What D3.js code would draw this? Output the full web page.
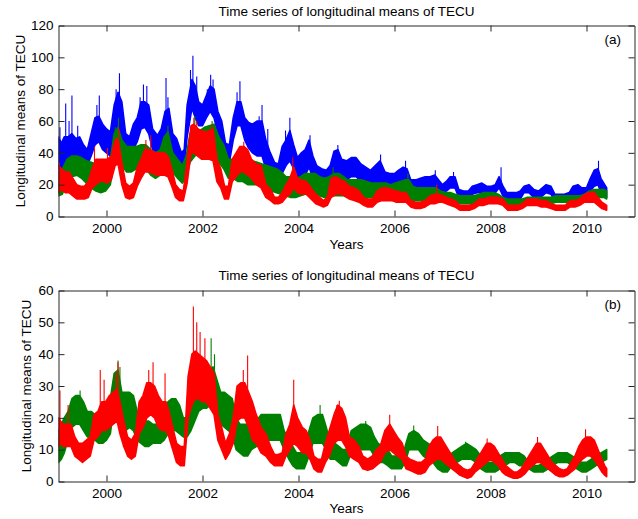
<!DOCTYPE html>
<html>
<head>
<meta charset="utf-8">
<script src="https://cdn.jsdelivr.net/npm/d3@7"></script>
<style>
  body { margin: 0; background: #ffffff; }
  svg { display: block; }
</style>
</head>
<body>
<script>
// bands: [year, lower, upper] of the dense daily trace
// spikes: [year, from, to] for the tall single-day spikes

// panel (a)
const blueA = [
  [1999.00, 30, 50], [1999.06, 28, 46], [1999.12, 32, 50], [1999.20, 34, 50], [1999.28, 35, 52],
  [1999.36, 34, 49], [1999.44, 34, 50], [1999.52, 32, 45], [1999.60, 32, 42], [1999.68, 38, 52],
  [1999.76, 45, 62], [1999.84, 47, 63], [1999.92, 42, 58], [2000.00, 40, 55], [2000.08, 38, 53],
  [2000.16, 50, 70], [2000.24, 57, 78], [2000.32, 50, 72], [2000.40, 38, 52], [2000.48, 36, 50],
  [2000.56, 42, 58], [2000.64, 47, 62], [2000.72, 55, 72], [2000.80, 56, 72], [2000.88, 52, 70],
  [2000.96, 42, 55], [2001.06, 40, 51], [2001.14, 42, 55], [2001.22, 50, 66], [2001.30, 48, 68],
  [2001.38, 40, 52], [2001.46, 36, 49], [2001.56, 30, 40], [2001.62, 32, 42], [2001.68, 50, 70],
  [2001.78, 68, 86], [2001.85, 62, 82], [2001.92, 57, 72], [2002.00, 57, 70], [2002.08, 62, 76],
  [2002.16, 66, 82], [2002.24, 62, 80], [2002.32, 52, 66], [2002.40, 47, 60], [2002.48, 36, 46],
  [2002.56, 34, 45], [2002.64, 48, 62], [2002.72, 57, 72], [2002.80, 57, 72], [2002.88, 48, 62],
  [2002.96, 43, 59], [2003.04, 40, 58], [2003.14, 38, 60], [2003.24, 38, 60], [2003.32, 30, 48],
  [2003.40, 25, 41], [2003.50, 23, 34], [2003.58, 23, 33], [2003.66, 27, 44], [2003.74, 32, 48],
  [2003.82, 35, 54], [2003.90, 30, 45], [2003.98, 23, 37], [2004.06, 25, 40], [2004.14, 26, 42],
  [2004.22, 31, 48], [2004.30, 24, 38], [2004.38, 19, 32], [2004.48, 18, 30], [2004.58, 20, 29],
  [2004.66, 22, 32], [2004.74, 27, 41], [2004.82, 28, 42], [2004.90, 24, 36], [2005.00, 23, 35],
  [2005.10, 25, 37], [2005.20, 25, 37], [2005.30, 22, 33], [2005.40, 19, 31], [2005.50, 18, 29],
  [2005.60, 20, 32], [2005.70, 22, 35], [2005.80, 19, 28], [2005.90, 18, 27], [2006.00, 18, 27],
  [2006.08, 20, 29], [2006.18, 21, 31], [2006.26, 20, 30], [2006.34, 16, 23], [2006.44, 16, 23],
  [2006.54, 17, 24], [2006.64, 18, 25], [2006.74, 18, 25], [2006.84, 18, 26], [2006.92, 16, 23],
  [2007.00, 15, 20], [2007.08, 16, 22], [2007.16, 18, 25], [2007.26, 18, 25], [2007.34, 12, 17],
  [2007.44, 11, 16], [2007.54, 11, 16], [2007.62, 14, 19], [2007.72, 15, 20], [2007.82, 15, 21],
  [2007.92, 15, 19], [2008.02, 15, 19], [2008.10, 15, 20], [2008.18, 18, 25], [2008.26, 13, 19],
  [2008.34, 10, 15], [2008.44, 10, 15], [2008.54, 10, 15], [2008.62, 11, 16], [2008.70, 15, 19],
  [2008.80, 15, 20], [2008.90, 12, 17], [2009.00, 11, 16], [2009.08, 13, 18], [2009.16, 15, 20],
  [2009.26, 14, 19], [2009.34, 10, 14], [2009.44, 9, 14], [2009.54, 9, 14], [2009.64, 10, 15],
  [2009.72, 13, 19], [2009.82, 14, 20], [2009.90, 13, 18], [2010.00, 13, 18], [2010.08, 16, 24],
  [2010.16, 19, 29], [2010.24, 20, 30], [2010.30, 15, 24], [2010.36, 13, 21], [2010.42, 12, 18]
];
const blueSpikesA = [
  [1999.03, 45, 56], [1999.15, 46, 71], [1999.22, 45, 60], [1999.28, 48, 76], [1999.40, 45, 57],
  [1999.80, 58, 70], [1999.85, 58, 76], [2000.20, 66, 80], [2000.27, 72, 90], [2000.70, 66, 75],
  [2000.77, 68, 83], [2000.84, 68, 82], [2001.24, 62, 87], [2001.28, 62, 75], [2001.75, 80, 92],
  [2001.80, 82, 101], [2001.88, 76, 88], [2002.10, 72, 80], [2002.17, 78, 89], [2002.22, 76, 86],
  [2002.72, 68, 78], [2002.78, 68, 85], [2003.18, 56, 63], [2003.24, 56, 70], [2003.36, 44, 55],
  [2003.73, 45, 54], [2003.82, 50, 62], [2004.24, 44, 51], [2004.82, 38, 45], [2005.71, 32, 39],
  [2006.23, 28, 35], [2006.85, 24, 29], [2007.23, 23, 28], [2008.22, 20, 31], [2010.25, 27, 35]
];

const greenA = [
  [1999.00, 13, 28], [1999.08, 14, 30], [1999.18, 22, 36], [1999.28, 25, 38], [1999.38, 26, 38],
  [1999.48, 24, 37], [1999.58, 21, 35], [1999.68, 18, 34], [1999.78, 16, 33], [1999.88, 15, 30],
  [1999.98, 16, 32], [2000.08, 20, 36], [2000.16, 34, 52], [2000.24, 38, 56], [2000.32, 32, 48],
  [2000.42, 28, 44], [2000.52, 28, 44], [2000.62, 30, 44], [2000.72, 30, 45], [2000.82, 30, 45],
  [2000.92, 26, 42], [2001.02, 24, 40], [2001.12, 26, 42], [2001.20, 34, 50], [2001.28, 36, 53],
  [2001.38, 28, 40], [2001.48, 24, 36], [2001.58, 21, 32], [2001.66, 24, 38], [2001.74, 34, 52],
  [2001.84, 38, 57], [2001.94, 40, 54], [2002.04, 42, 56], [2002.14, 42, 57], [2002.24, 42, 58],
  [2002.34, 34, 50], [2002.44, 30, 45], [2002.54, 24, 36], [2002.64, 24, 36], [2002.74, 22, 38],
  [2002.84, 22, 38], [2002.94, 20, 36], [2003.04, 20, 35], [2003.14, 20, 34], [2003.24, 19, 33],
  [2003.34, 18, 32], [2003.44, 16, 31], [2003.54, 15, 30], [2003.64, 14, 28], [2003.74, 13, 25],
  [2003.84, 12, 25], [2003.94, 12, 24], [2004.04, 13, 25], [2004.14, 14, 27], [2004.24, 15, 27],
  [2004.34, 14, 27], [2004.44, 13, 25], [2004.54, 12, 24], [2004.64, 12, 25], [2004.74, 13, 27],
  [2004.84, 13, 27], [2004.94, 13, 25], [2005.02, 12, 23], [2005.12, 12, 23], [2005.22, 12, 23],
  [2005.32, 12, 23], [2005.42, 12, 22], [2005.52, 12, 21], [2005.62, 12, 21], [2005.72, 12, 21],
  [2005.82, 11, 21], [2005.92, 11, 20], [2006.02, 11, 21], [2006.12, 11, 22], [2006.22, 12, 23],
  [2006.30, 12, 23], [2006.38, 10, 19], [2006.46, 10, 18], [2006.56, 10, 18], [2006.66, 10, 18],
  [2006.76, 10, 18], [2006.86, 10, 18], [2006.96, 10, 16], [2007.06, 10, 15], [2007.16, 10, 15],
  [2007.26, 9, 14], [2007.36, 8, 13], [2007.46, 8, 13], [2007.56, 8, 13], [2007.66, 8, 13],
  [2007.76, 9, 14], [2007.86, 9, 15], [2007.96, 9, 15], [2008.06, 9, 15], [2008.16, 9, 14],
  [2008.26, 8, 12], [2008.36, 7, 11], [2008.46, 7, 11], [2008.56, 7, 11], [2008.66, 7, 11],
  [2008.76, 8, 12], [2008.86, 8, 12], [2008.96, 8, 12], [2009.06, 8, 12], [2009.16, 8, 12],
  [2009.26, 8, 12], [2009.36, 9, 13], [2009.46, 9, 13], [2009.56, 9, 13], [2009.66, 9, 13],
  [2009.76, 9, 13], [2009.86, 9, 13], [2009.96, 10, 14], [2010.06, 11, 16], [2010.16, 11, 17],
  [2010.26, 12, 17], [2010.36, 12, 17], [2010.42, 11, 16]
];
const greenSpikesA = [
  [2000.18, 48, 56], [2000.25, 50, 62], [2001.28, 48, 57], [2001.78, 48, 57], [2001.84, 54, 63],
  [2002.20, 54, 60], [2004.72, 24, 31], [2006.28, 21, 27]
];

const redA = [
  [1999.00, 15, 32], [1999.06, 17, 30], [1999.14, 15, 28], [1999.22, 15, 28], [1999.30, 13, 24],
  [1999.38, 11, 20], [1999.46, 11, 19], [1999.54, 11, 19], [1999.62, 12, 22], [1999.70, 18, 30],
  [1999.78, 20, 36], [1999.86, 22, 36], [1999.94, 22, 36], [2000.02, 21, 36], [2000.10, 23, 38],
  [2000.18, 32, 48], [2000.24, 33, 49], [2000.32, 20, 34], [2000.40, 12, 21], [2000.48, 11, 19],
  [2000.56, 12, 21], [2000.64, 19, 31], [2000.72, 24, 36], [2000.80, 28, 42], [2000.88, 28, 42],
  [2000.96, 27, 41], [2001.04, 26, 40], [2001.12, 26, 40], [2001.20, 26, 40], [2001.28, 25, 38],
  [2001.36, 19, 30], [2001.44, 12, 20], [2001.52, 10, 17], [2001.60, 10, 16], [2001.68, 21, 35],
  [2001.76, 40, 57], [2001.82, 40, 58], [2001.90, 38, 55], [2001.98, 36, 54], [2002.06, 36, 53],
  [2002.14, 36, 54], [2002.22, 35, 55], [2002.30, 22, 36], [2002.38, 18, 30], [2002.46, 11, 19],
  [2002.54, 11, 19], [2002.62, 22, 36], [2002.70, 25, 40], [2002.78, 28, 44], [2002.86, 28, 44],
  [2002.94, 26, 42], [2003.02, 24, 36], [2003.12, 20, 33], [2003.22, 18, 32], [2003.32, 12, 20],
  [2003.42, 10, 17], [2003.50, 8, 12], [2003.58, 8, 12], [2003.66, 9, 15], [2003.74, 12, 20],
  [2003.82, 14, 24], [2003.90, 18, 31], [2003.98, 15, 24], [2004.06, 14, 23], [2004.16, 14, 22],
  [2004.26, 11, 18], [2004.36, 8, 14], [2004.44, 7, 12], [2004.52, 6, 10], [2004.60, 7, 12],
  [2004.68, 12, 24], [2004.78, 14, 25], [2004.88, 14, 23], [2004.96, 13, 22], [2005.06, 11, 19],
  [2005.16, 10, 18], [2005.26, 9, 16], [2005.36, 7, 12], [2005.44, 6, 11], [2005.54, 6, 11],
  [2005.64, 9, 16], [2005.74, 10, 18], [2005.84, 10, 18], [2005.94, 10, 17], [2006.04, 9, 16],
  [2006.14, 9, 15], [2006.24, 9, 15], [2006.34, 6, 10], [2006.44, 5, 9], [2006.54, 5, 9],
  [2006.64, 6, 10], [2006.74, 8, 13], [2006.84, 8, 14], [2006.92, 9, 14], [2007.00, 9, 13],
  [2007.08, 8, 12], [2007.16, 7, 11], [2007.26, 6, 10], [2007.36, 4, 7], [2007.46, 4, 7],
  [2007.56, 4, 7], [2007.66, 5, 8], [2007.76, 7, 11], [2007.86, 7, 11], [2007.96, 8, 12],
  [2008.06, 8, 12], [2008.16, 8, 12], [2008.26, 7, 11], [2008.36, 4, 7], [2008.46, 4, 7],
  [2008.56, 4, 7], [2008.66, 5, 8], [2008.76, 7, 11], [2008.86, 7, 11], [2008.96, 7, 11],
  [2009.06, 6, 10], [2009.16, 6, 10], [2009.26, 5, 8], [2009.36, 4, 7], [2009.46, 4, 7],
  [2009.56, 4, 7], [2009.66, 6, 10], [2009.76, 6, 10], [2009.86, 7, 11], [2009.96, 9, 14],
  [2010.06, 9, 15], [2010.16, 9, 15], [2010.24, 7, 12], [2010.32, 5, 9], [2010.42, 4, 7]
];
const redSpikesA = [
  [1999.02, 28, 34], [1999.75, 30, 44], [2000.02, 33, 43], [2000.25, 46, 56], [2000.82, 39, 48],
  [2000.92, 38, 51], [2001.82, 55, 62], [2001.88, 52, 60], [2002.20, 52, 58], [2002.86, 41, 47],
  [2003.88, 28, 37], [2006.88, 13, 20], [2010.12, 14, 16]
];

// panel (b)
const greenB = [
  [1999.00, 6, 16], [1999.06, 7, 18], [1999.12, 9, 20], [1999.20, 13, 22], [1999.28, 17, 26],
  [1999.36, 18, 27], [1999.44, 18, 27], [1999.52, 16, 25], [1999.60, 14, 22], [1999.68, 14, 22],
  [1999.76, 13, 21], [1999.84, 12, 20], [1999.92, 12, 20], [2000.00, 13, 22], [2000.08, 15, 26],
  [2000.16, 24, 34], [2000.24, 26, 35], [2000.32, 18, 28], [2000.40, 16, 28], [2000.48, 17, 28],
  [2000.56, 16, 27], [2000.64, 13, 22], [2000.72, 12, 20], [2000.80, 11, 19], [2000.88, 11, 19],
  [2000.96, 12, 18], [2001.04, 12, 18], [2001.12, 12, 19], [2001.20, 13, 22], [2001.28, 15, 25],
  [2001.36, 16, 26], [2001.44, 16, 26], [2001.52, 15, 24], [2001.60, 14, 20], [2001.68, 14, 20],
  [2001.76, 16, 24], [2001.84, 19, 28], [2001.92, 22, 32], [2002.00, 23, 33], [2002.08, 23, 34],
  [2002.16, 24, 35], [2002.22, 25, 36], [2002.30, 21, 32], [2002.38, 18, 28], [2002.46, 17, 28],
  [2002.54, 16, 27], [2002.62, 15, 26], [2002.70, 10, 20], [2002.78, 9, 18], [2002.86, 8, 18],
  [2002.94, 8, 18], [2003.02, 10, 19], [2003.12, 11, 19], [2003.22, 12, 21], [2003.32, 13, 21],
  [2003.42, 13, 21], [2003.52, 13, 21], [2003.62, 13, 21], [2003.70, 10, 16], [2003.80, 7, 13],
  [2003.88, 5, 11], [2003.96, 4, 9], [2004.04, 4, 9], [2004.12, 4, 10], [2004.22, 8, 16],
  [2004.30, 12, 20], [2004.40, 12, 21], [2004.50, 12, 21], [2004.58, 10, 17], [2004.66, 7, 12],
  [2004.76, 7, 12], [2004.84, 6, 11], [2004.92, 5, 10], [2005.00, 5, 10], [2005.10, 9, 16],
  [2005.20, 10, 17], [2005.30, 10, 18], [2005.40, 10, 18], [2005.50, 10, 17], [2005.58, 8, 14],
  [2005.66, 6, 12], [2005.76, 6, 11], [2005.86, 5, 10], [2005.94, 4, 8], [2006.04, 4, 8],
  [2006.14, 4, 8], [2006.22, 6, 11], [2006.30, 10, 15], [2006.40, 10, 16], [2006.50, 10, 15],
  [2006.60, 8, 13], [2006.70, 7, 12], [2006.80, 6, 11], [2006.90, 4, 8], [2007.00, 3, 7],
  [2007.10, 3, 7], [2007.20, 5, 9], [2007.30, 6, 10], [2007.40, 7, 11], [2007.50, 7, 12],
  [2007.60, 7, 11], [2007.70, 6, 10], [2007.80, 4, 8], [2007.90, 3, 6], [2008.00, 3, 6],
  [2008.10, 3, 6], [2008.20, 4, 8], [2008.30, 5, 9], [2008.40, 6, 9], [2008.50, 6, 9],
  [2008.60, 5, 9], [2008.70, 5, 8], [2008.80, 4, 6], [2008.90, 3, 5], [2009.00, 3, 5],
  [2009.10, 3, 6], [2009.20, 4, 7], [2009.30, 5, 8], [2009.40, 6, 9], [2009.50, 6, 9],
  [2009.60, 6, 9], [2009.70, 5, 8], [2009.80, 4, 7], [2009.90, 3, 6], [2010.00, 3, 6],
  [2010.10, 4, 7], [2010.20, 5, 8], [2010.30, 6, 9], [2010.42, 7, 10]
];
const greenSpikesB = [
  [1999.35, 24, 27], [1999.45, 25, 28.6], [2000.24, 33, 38], [2000.28, 26, 36], [2002.10, 32, 37],
  [2002.18, 34, 45], [2002.25, 34, 40], [2004.45, 19, 24], [2005.40, 17, 19], [2006.40, 15, 17.6],
  [2007.48, 11, 12.5]
];

const redB = [
  [1999.00, 11, 20], [1999.04, 12, 19], [1999.10, 11, 18], [1999.18, 11, 18], [1999.26, 11, 18],
  [1999.34, 8, 14], [1999.42, 7, 12], [1999.50, 6, 12], [1999.58, 7, 13], [1999.66, 8, 14],
  [1999.74, 13, 21], [1999.82, 14, 22], [1999.90, 16, 25], [1999.98, 16, 25], [2000.06, 17, 27],
  [2000.14, 18, 28], [2000.22, 19, 29], [2000.28, 15, 25], [2000.36, 11, 19], [2000.44, 8, 14],
  [2000.52, 7, 13], [2000.60, 8, 15], [2000.68, 15, 25], [2000.76, 17, 27], [2000.84, 20, 31],
  [2000.92, 21, 31], [2001.00, 20, 30], [2001.08, 17, 27], [2001.16, 16, 25], [2001.24, 16, 25],
  [2001.30, 14, 22], [2001.38, 10, 17], [2001.46, 6, 12], [2001.54, 5, 11], [2001.62, 5, 11],
  [2001.70, 20, 33], [2001.78, 24, 40], [2001.85, 26, 41], [2001.92, 26, 40], [2002.00, 25, 39],
  [2002.08, 25, 38], [2002.16, 23, 36], [2002.24, 21, 34], [2002.32, 13, 21], [2002.40, 10, 17],
  [2002.48, 7, 12], [2002.56, 9, 15], [2002.64, 12, 20], [2002.72, 19, 30], [2002.80, 20, 31],
  [2002.88, 20, 31], [2002.96, 17, 28], [2003.04, 13, 25], [2003.12, 12, 21], [2003.22, 9, 17],
  [2003.32, 8, 15], [2003.42, 6, 11], [2003.50, 5, 8.5], [2003.58, 5, 8.5], [2003.66, 5, 9],
  [2003.74, 8, 15], [2003.82, 10, 18], [2003.90, 12, 24], [2003.98, 11, 20], [2004.08, 9, 17],
  [2004.16, 9, 16], [2004.24, 7, 13], [2004.32, 4, 8], [2004.40, 3, 7], [2004.48, 3, 7],
  [2004.56, 6, 12], [2004.64, 8, 16], [2004.74, 12, 21], [2004.82, 13, 24], [2004.90, 13, 23],
  [2004.98, 11, 20], [2005.06, 8, 14], [2005.16, 7, 13], [2005.26, 6, 11], [2005.34, 4, 8],
  [2005.44, 3.5, 7], [2005.54, 4, 8], [2005.62, 5, 10], [2005.70, 6, 11], [2005.80, 9, 16],
  [2005.90, 10, 18], [2005.98, 9, 16], [2006.06, 8, 14], [2006.16, 7, 12], [2006.24, 4, 8],
  [2006.32, 3.5, 7], [2006.40, 3, 6.5], [2006.48, 2.4, 6], [2006.56, 2.4, 6], [2006.64, 3, 7],
  [2006.72, 5, 11], [2006.80, 6, 13], [2006.88, 7, 14], [2006.96, 7, 14], [2007.04, 6, 12],
  [2007.12, 5, 10], [2007.20, 4, 8], [2007.28, 3, 6], [2007.36, 2, 5], [2007.44, 1.5, 4],
  [2007.52, 1, 3.5], [2007.60, 1.5, 4], [2007.68, 3, 6], [2007.76, 4, 8], [2007.84, 5, 10],
  [2007.92, 6, 12], [2008.00, 7, 12], [2008.08, 6, 11], [2008.16, 5, 9], [2008.24, 3, 7],
  [2008.32, 2, 5], [2008.40, 1.5, 4], [2008.48, 1, 3], [2008.56, 1, 3], [2008.64, 1.5, 4],
  [2008.72, 2.5, 6], [2008.80, 4, 8], [2008.88, 5, 10], [2008.96, 6, 12], [2009.04, 6, 12],
  [2009.12, 5, 10], [2009.20, 4, 8], [2009.28, 3, 6], [2009.36, 2, 5], [2009.44, 1.5, 4],
  [2009.52, 1.5, 3.5], [2009.60, 2, 4], [2009.68, 3, 6], [2009.76, 4, 8], [2009.84, 6, 11],
  [2009.92, 7, 13], [2010.00, 8, 14], [2010.08, 8, 14], [2010.16, 7, 13], [2010.24, 5, 10],
  [2010.32, 3, 7], [2010.38, 2, 5], [2010.42, 1.5, 4]
];
const redSpikesB = [
  [1999.03, 18, 28.6], [1999.20, 17, 24], [1999.87, 21, 35], [1999.95, 24, 32], [2000.20, 27, 34],
  [2000.24, 27, 37.5], [2000.88, 29, 35], [2000.97, 29, 37.5], [2001.22, 23, 34], [2001.81, 39, 55],
  [2001.88, 39, 50], [2001.95, 38, 47], [2002.05, 37, 45], [2002.85, 29, 35], [2002.94, 27, 39.6],
  [2003.90, 21, 32], [2004.80, 22, 24], [2004.85, 21, 25.4], [2005.90, 16, 21], [2006.90, 13, 17.4],
  [2007.93, 11, 13.5], [2008.98, 11, 14], [2009.98, 13, 16.4]
];

const yearTicks = [2000, 2002, 2004, 2006, 2008, 2010];
const yTicksA = [0, 20, 40, 60, 80, 100, 120];
const yTicksB = [0, 10, 20, 30, 40, 50, 60];

const titleText = "Time series of longitudinal means of TECU";
const yLabelText = "Longitudinal means of TECU";
const xLabelText = "Years";

// window stuff
width = 638
height = 519
font = {family: "'Liberation Sans', Arial, Helvetica, sans-serif", size: 13.5}
colors = {blue: "#0000ff", green: "#008000", red: "#ff0000", axis: "#262626"}

const svg = d3.select("body").append("svg")
  .attr("width", width)
  .attr("height", height)
  .attr("font-family", font.family)
  .attr("font-size", font.size);

const xScale = d3.scaleLinear().domain([1999, 2011]).range([58.5, 634.5]);

// one panel = box, bands, axes, labels
function drawPanel(opts) {
  const yScale = d3.scaleLinear().domain(opts.yDomain).range([opts.bottom, opts.top]);
  const g = svg.append("g");

  const clipId = "clip-" + opts.tag;
  g.append("clipPath").attr("id", clipId)
    .append("rect")
      .attr("x", xScale.range()[0]).attr("y", opts.top)
      .attr("width", xScale.range()[1] - xScale.range()[0])
      .attr("height", opts.bottom - opts.top);

  const band = d3.area()
    .x(d => xScale(d[0]))
    .y0(d => yScale(d[1]))
    .y1(d => yScale(d[2]));

  const plot = g.append("g").attr("clip-path", `url(#${clipId})`);
  opts.series.forEach(s => {
    plot.append("path")
      .datum(s.data)
      .attr("d", band)
      .attr("fill", s.color)
      .attr("stroke", s.color)
      .attr("stroke-width", 1.6)
      .attr("stroke-linejoin", "round");
    plot.append("g").selectAll("line").data(s.spikes).join("line")
      .attr("x1", d => xScale(d[0]))
      .attr("x2", d => xScale(d[0]))
      .attr("y1", d => yScale(d[1]))
      .attr("y2", d => yScale(d[2]))
      .attr("stroke", s.color)
      .attr("stroke-width", 1.1);
  });

  // axes, ticks pointing in like matlab
  const bottomAxis = d3.axisBottom(xScale).tickValues(yearTicks).tickFormat(d3.format("d"))
    .tickSizeInner(-6).tickSizeOuter(0).tickPadding(opts.xPad);
  const topAxis = d3.axisTop(xScale).tickValues(yearTicks).tickFormat("")
    .tickSizeInner(-6).tickSizeOuter(0);
  const leftAxis = d3.axisLeft(yScale).tickValues(opts.yTicks).tickFormat(d3.format("d"))
    .tickSizeInner(-6).tickSizeOuter(0).tickPadding(5);
  const rightAxis = d3.axisRight(yScale).tickValues(opts.yTicks).tickFormat("")
    .tickSizeInner(-6).tickSizeOuter(0);

  const axes = [
    g.append("g").attr("transform", `translate(0,${opts.bottom})`).call(bottomAxis),
    g.append("g").attr("transform", `translate(0,${opts.top})`).call(topAxis),
    g.append("g").attr("transform", `translate(${xScale.range()[0]},0)`).call(leftAxis),
    g.append("g").attr("transform", `translate(${xScale.range()[1]},0)`).call(rightAxis)
  ];
  axes.forEach(a => {
    a.attr("font-family", null).attr("font-size", null);
    a.select(".domain").attr("stroke", colors.axis);
    a.selectAll(".tick line").attr("stroke", colors.axis);
    a.selectAll(".tick text").attr("fill", "#000");
  });

  // panel title
  svg.append("text")
    .attr("x", (xScale.range()[0] + xScale.range()[1]) / 2)
    .attr("y", opts.titleY)
    .attr("text-anchor", "middle")
    .text(titleText);

  // x label
  svg.append("text")
    .attr("x", (xScale.range()[0] + xScale.range()[1]) / 2)
    .attr("y", opts.xLabelY)
    .attr("text-anchor", "middle")
    .text(xLabelText);

  // y label
  svg.append("text")
    .attr("transform", `translate(${opts.yLabelX},${(opts.top + opts.bottom) / 2}) rotate(-90)`)
    .attr("text-anchor", "middle")
    .text(yLabelText);

  // (a) / (b)
  svg.append("text")
    .attr("x", 621)
    .attr("y", opts.tagY)
    .attr("text-anchor", "end")
    .text("(" + opts.tag + ")");
}

drawPanel({
  tag: "a", top: 25.5, bottom: 216.5, yDomain: [0, 120], yTicks: yTicksA,
  xPad: 7, titleY: 16.4, xLabelY: 248.7, yLabelX: 24.7, tagY: 43.5,
  series: [
    {data: blueA, spikes: blueSpikesA, color: colors.blue},
    {data: greenA, spikes: greenSpikesA, color: colors.green},
    {data: redA, spikes: redSpikesA, color: colors.red}
  ]
});

drawPanel({
  tag: "b", top: 290.5, bottom: 481.5, yDomain: [0, 60], yTicks: yTicksB,
  xPad: 6.5, titleY: 280.4, xLabelY: 513, yLabelX: 31.4, tagY: 308.5,
  series: [
    {data: greenB, spikes: greenSpikesB, color: colors.green},
    {data: redB, spikes: redSpikesB, color: colors.red}
  ]
});
</script>
</body>
</html>
